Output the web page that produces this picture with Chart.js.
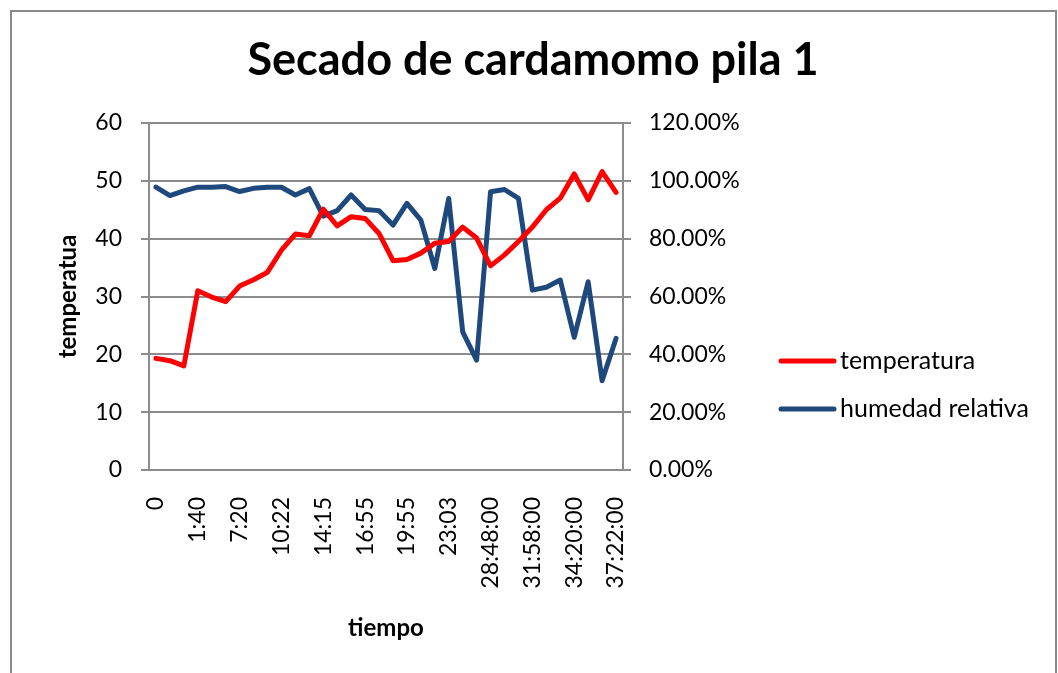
<!DOCTYPE html>
<html>
<head>
<meta charset="utf-8">
<script src="https://cdn.jsdelivr.net/npm/chart.js@4"></script>
<style>
    html, body { margin: 0; padding: 0; background: #fff; }
    #frame {
        position: absolute; left: 10px; top: 10px;
        width: 1043px; height: 700px;
        border: 2px solid #8a8a8a;
    }
    #wrap { position: absolute; left: 0; top: 0; width: 1058px; height: 673px; }
</style>
</head>
<body>
<div id="frame"></div>
<div id="wrap"><canvas id="chart" width="1058" height="673"></canvas></div>
<script>
// tiempo (only every third label is shown on the axis)
const tiempo = [
    '0', '0:20', '1:00', '1:40', '3:20', '5:20', '7:20', '8:20', '9:20',
    '10:22', '11:45', '13:00', '14:15', '15:10', '16:00', '16:55', '17:55',
    '18:55', '19:55', '20:55', '22:00', '23:03', '24:30', '26:40', '28:48:00',
    '29:50:00', '30:55:00', '31:58:00', '32:45:00', '33:30:00', '34:20:00',
    '35:20:00', '36:20:00', '37:22:00'
];

const temperatura = [
    19.3, 18.9, 18.0, 31.0, 29.9, 29.1, 31.8, 32.9, 34.2, 38.0, 40.8, 40.5,
    45.1, 42.2, 43.8, 43.5, 40.9, 36.2, 36.4, 37.5, 39.2, 39.5, 42.0, 40.1,
    35.3, 37.2, 39.5, 42.0, 45.0, 47.0, 51.2, 46.7, 51.6, 48.0
];

// humedad relativa, in percent
const humedad = [
    97.8, 94.9, 96.5, 97.8, 97.8, 98.0, 96.3, 97.4, 97.8, 97.8, 95.1, 97.3,
    87.8, 89.7, 95.1, 90.1, 89.7, 84.7, 92.2, 86.4, 69.7, 93.9, 47.8, 38.0,
    96.2, 97.0, 93.9, 62.2, 63.2, 65.7, 45.9, 65.1, 30.9, 45.5
];

const tempTicks = [0, 10, 20, 30, 40, 50, 60];
const humTicks = [0, 20, 40, 60, 80, 100, 120];

const FONT = 'Lato, "Open Sans", sans-serif';
const GRID = '#8c8c8c';

// legend drawn to the right of the plot, like the spreadsheet one
const sideLegend = {
    id: 'sideLegend',
    afterDraw(chart) {
        const ctx = chart.ctx;
        const x0 = chart.chartArea.right + 158;
        ctx.save();
        chart.data.datasets.forEach((ds, i) => {
            const y = 361 + i * 48;
            ctx.strokeStyle = ds.borderColor;
            ctx.lineWidth = 5;
            ctx.lineCap = 'round';
            ctx.beginPath();
            ctx.moveTo(x0, y);
            ctx.lineTo(x0 + 53, y);
            ctx.stroke();
            ctx.fillStyle = '#000';
            ctx.font = '25px ' + FONT;
            ctx.textBaseline = 'middle';
            ctx.fillText(ds.label, x0 + 59, y);
        });
        ctx.restore();
    }
};

Chart.defaults.font.family = FONT;
Chart.defaults.color = '#000';

new Chart(document.getElementById('chart').getContext('2d'), {
    type: 'line',
    data: {
        labels: tiempo,
        datasets: [{
            label: 'temperatura',
            data: temperatura,
            yAxisID: 'y',
            borderColor: '#ff0000',
            backgroundColor: '#ff0000',
            borderWidth: 5,
            pointRadius: 0,
            tension: 0,
            borderJoinStyle: 'round',
            borderCapStyle: 'round'
        }, {
            label: 'humedad relativa',
            data: humedad,
            yAxisID: 'y1',
            borderColor: '#1f497d',
            backgroundColor: '#1f497d',
            borderWidth: 5,
            pointRadius: 0,
            tension: 0,
            borderJoinStyle: 'round',
            borderCapStyle: 'round'
        }]
    },
    options: {
        responsive: false,
        animation: false,
        layout: {
            padding: { left: 40, right: 32, top: 0, bottom: 20 }
        },
        plugins: {
            legend: { display: false },
            tooltip: { enabled: false },
            title: {
                display: true,
                text: 'Secado de cardamomo pila 1',
                font: { size: 45, weight: 'bold' },
                color: '#000',
                padding: { top: 33, bottom: 36 }
            }
        },
        scales: {
            x: {
                offset: true,
                afterFit: function(scale) { scale.height = 183; },
                grid: { display: false, drawTicks: false },
                border: { display: true, color: GRID, width: 2 },
                ticks: {
                    autoSkip: false,
                    maxRotation: 90,
                    minRotation: 90,
                    padding: 27,
                    font: { size: 23 },
                    callback: function(value, index) {
                        return index % 3 === 0 ? this.getLabelForValue(value) : '';
                    }
                },
                title: {
                    display: true,
                    text: 'tiempo',
                    font: { size: 24, weight: 'bold' },
                    padding: { top: 0, bottom: 10 }
                }
            },
            y: {
                position: 'left',
                min: tempTicks[0],
                max: tempTicks[tempTicks.length - 1],
                afterFit: function(scale) { scale.width = 109; },
                afterBuildTicks: function(scale) {
                    scale.ticks = tempTicks.map(v => ({ value: v }));
                },
                grid: { color: GRID, lineWidth: 2, tickLength: 8 },
                border: { display: true, color: GRID, width: 2 },
                ticks: { padding: 19, font: { size: 23 } },
                title: {
                    display: true,
                    text: 'temperatua',
                    font: { size: 24, weight: 'bold' },
                    padding: { top: 14, bottom: 0 }
                }
            },
            y1: {
                position: 'right',
                min: humTicks[0],
                max: humTicks[humTicks.length - 1],
                afterFit: function(scale) { scale.width = 403; },
                afterBuildTicks: function(scale) {
                    scale.ticks = humTicks.map(v => ({ value: v }));
                },
                grid: { drawOnChartArea: false, color: GRID, lineWidth: 2, tickLength: 8 },
                border: { display: true, color: GRID, width: 2 },
                ticks: {
                    padding: 18,
                    font: { size: 23 },
                    callback: v => v.toFixed(2) + '%'
                }
            }
        }
    },
    plugins: [sideLegend]
});
</script>
</body>
</html>
